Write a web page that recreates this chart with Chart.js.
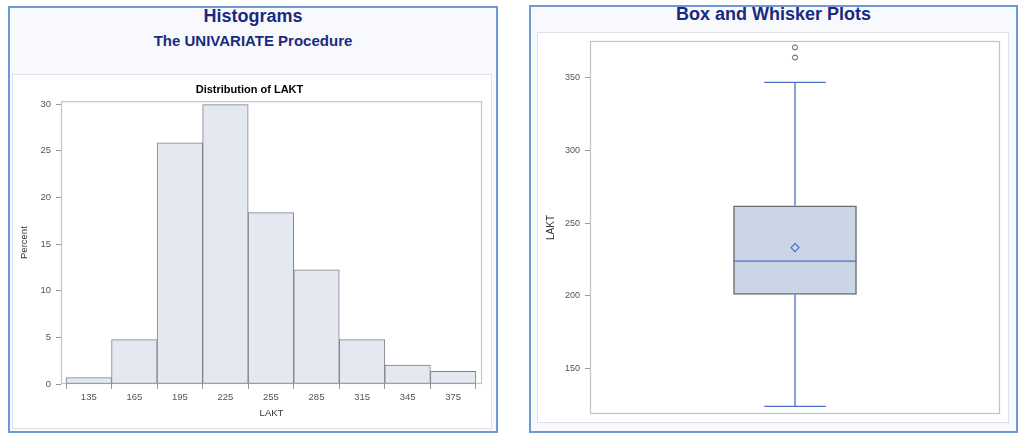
<!DOCTYPE html>
<html>
<head>
<meta charset="utf-8">
<script src="https://cdn.jsdelivr.net/npm/chart.js@4.4.1/dist/chart.umd.min.js"></script>
<style>
  body { margin: 0; width: 1024px; height: 440px; background: #fff; position: relative; overflow: hidden;
         font-family: "Liberation Sans", Arial, sans-serif; }
  .panel { position: absolute; box-sizing: border-box; border: 2px solid #6f99d3; background: #f8f9fd; }
  .inner { position: absolute; box-sizing: border-box; border: 1px solid #dce1ea; background: #fff; }
  .ttl { position: absolute; text-align: center; color: #1b2a7e; font-weight: bold; white-space: nowrap; }
  canvas { position: absolute; }
</style>
</head>
<body>
<div class="panel" style="left:8px;top:6px;width:490px;height:427px"></div>
<div class="inner" style="left:12px;top:74px;width:480px;height:355px"></div>
<div class="ttl" style="left:8px;width:490px;top:7px;font-size:18px;line-height:18px">Histograms</div>
<div class="ttl" style="left:8px;width:490px;top:33px;font-size:15px;line-height:15px">The UNIVARIATE Procedure</div>
<canvas id="hist" width="478" height="353" style="left:13px;top:75px"></canvas>

<div class="panel" style="left:529px;top:5px;width:489px;height:428px"></div>
<div class="inner" style="left:537px;top:32px;width:472px;height:391px"></div>
<div class="ttl" style="left:529px;width:489px;top:5px;font-size:18px;line-height:18px">Box and Whisker Plots</div>
<canvas id="box" width="470" height="389" style="left:538px;top:33px"></canvas>

<script>
// histogram of LAKT (percent per bin, bin width 30)
const binMidpoints = [135, 165, 195, 225, 255, 285, 315, 345, 375];
const binPercents = [0.68, 4.76, 25.85, 29.93, 18.37, 12.24, 4.76, 2.04, 1.36];
const histYTicks = [0, 5, 10, 15, 20, 25, 30];

// box plot of LAKT
const boxQuartiles = [201, 224, 262]; // q1, median, q3
const boxWhiskers = [124, 347];
const boxMean = [233.3];
const boxOutliers = [364, 371];
const boxYTicks = [150, 200, 250, 300, 350];

Chart.defaults.font.family = '"Liberation Sans", Arial, sans-serif';
Chart.defaults.animation = false;

const framePlugin = {
  id: 'frame',
  beforeDatasetsDraw(chart, args, opts) {
    const { ctx, chartArea: a } = chart;
    ctx.save();
    ctx.strokeStyle = opts.color || '#c4c4c4';
    ctx.lineWidth = 1.2;
    ctx.strokeRect(a.left + 0.5, a.top + 0.5, a.width - 1, a.height - 1);
    ctx.restore();
  }
};

const tickStyle = { color: '#555', font: { size: 9.5 }, padding: 5 };
const gridStyle = { display: true, drawOnChartArea: false, drawTicks: true, tickLength: 5, color: '#999' };

new Chart(document.getElementById('hist'), {
  type: 'bar',
  data: {
    datasets: [{
      data: binMidpoints.map((x, i) => ({ x, y: binPercents[i] })),
      backgroundColor: '#e4e8f1',
      borderColor: '#7c828c',
      borderWidth: 1,
      borderSkipped: false,
      barPercentage: 1,
      categoryPercentage: 1,
    }],
  },
  options: {
    responsive: false,
    layout: { padding: { left: 4, right: 9, top: 5, bottom: 5 } },
    plugins: {
      legend: { display: false },
      tooltip: { enabled: false },
      title: {
        display: true,
        text: 'Distribution of LAKT',
        color: '#000',
        font: { size: 11, weight: 'bold' },
        padding: { top: 3, bottom: 5 },
      },
      frame: { color: '#c6c6c6' },
    },
    scales: {
      x: {
        type: 'linear',
        offset: false,
        min: 116.7,
        max: 394,
        afterBuildTicks: (s) => { s.ticks = binMidpoints.map((v) => ({ value: v })); },
        afterFit: (s) => { s.height = 39; },
        ticks: { ...tickStyle, padding: 3, maxRotation: 0 },
        grid: gridStyle,
        border: { display: false },
        title: { display: true, text: 'LAKT', color: '#333', font: { size: 9.5 } },
      },
      y: {
        min: 0,
        max: 30.3,
        afterBuildTicks: (s) => { s.ticks = histYTicks.map((v) => ({ value: v })); },
        afterFit: (s) => { s.width = 44; },
        ticks: tickStyle,
        grid: gridStyle,
        border: { display: false },
        title: { display: true, text: 'Percent', color: '#333', font: { size: 9.5 }, padding: { top: 2, bottom: 0 } },
      },
    },
  },
  plugins: [framePlugin],
});

const [q1, med, q3] = boxQuartiles;
const [wLo, wHi] = boxWhiskers;
const blue = '#4a6fc6';
const seg = (pts) => ({
  type: 'scatter',
  data: pts,
  showLine: true,
  pointRadius: 0,
  borderColor: blue,
  borderWidth: 1.3,
  order: 1,
});

new Chart(document.getElementById('box'), {
  type: 'scatter',
  data: {
    datasets: [
      {
        type: 'bar',
        data: [{ x: 0, y: [q1, q3] }],
        backgroundColor: '#cad5e6',
        borderColor: '#6c6c6c',
        borderWidth: 1.5,
        borderSkipped: false,
        barThickness: 123,
        order: 5,
      },
      seg([{ x: 0, y: q3 }, { x: 0, y: wHi }]),
      seg([{ x: 0, y: q1 }, { x: 0, y: wLo }]),
      seg([{ x: -0.15, y: wHi }, { x: 0.15, y: wHi }]),
      seg([{ x: -0.15, y: wLo }, { x: 0.15, y: wLo }]),
      seg([{ x: -0.3, y: med }, { x: 0.3, y: med }]),
      {
        type: 'scatter',
        data: boxMean.map((y) => ({ x: 0, y })),
        pointStyle: 'rectRot',
        pointRadius: 4,
        borderColor: blue,
        borderWidth: 1.2,
        backgroundColor: 'rgba(0,0,0,0)',
        order: 0,
      },
      {
        type: 'scatter',
        data: boxOutliers.map((y) => ({ x: 0, y })),
        pointStyle: 'circle',
        pointRadius: 2.5,
        borderColor: '#555',
        borderWidth: 1,
        backgroundColor: 'rgba(0,0,0,0)',
        order: 0,
      },
    ],
  },
  options: {
    responsive: false,
    layout: { padding: { left: 3, right: 8, top: 8, bottom: 8 } },
    plugins: {
      legend: { display: false },
      tooltip: { enabled: false },
      frame: { color: '#c2c2c2' },
    },
    scales: {
      x: { type: 'linear', display: false, offset: false, min: -1, max: 1 },
      y: {
        type: 'linear',
        beginAtZero: false,
        min: 118.8,
        max: 375.4,
        afterBuildTicks: (s) => { s.ticks = boxYTicks.map((v) => ({ value: v })); },
        afterFit: (s) => { s.width = 49; s.paddingTop = 0; s.paddingBottom = 0; },
        ticks: { color: '#555', font: { size: 9 }, padding: 5 },
        grid: gridStyle,
        border: { display: false },
        title: { display: true, text: 'LAKT', color: '#333', font: { size: 10 }, padding: { top: 4, bottom: 0 } },
      },
    },
  },
  plugins: [framePlugin],
});
</script>
</body>
</html>
